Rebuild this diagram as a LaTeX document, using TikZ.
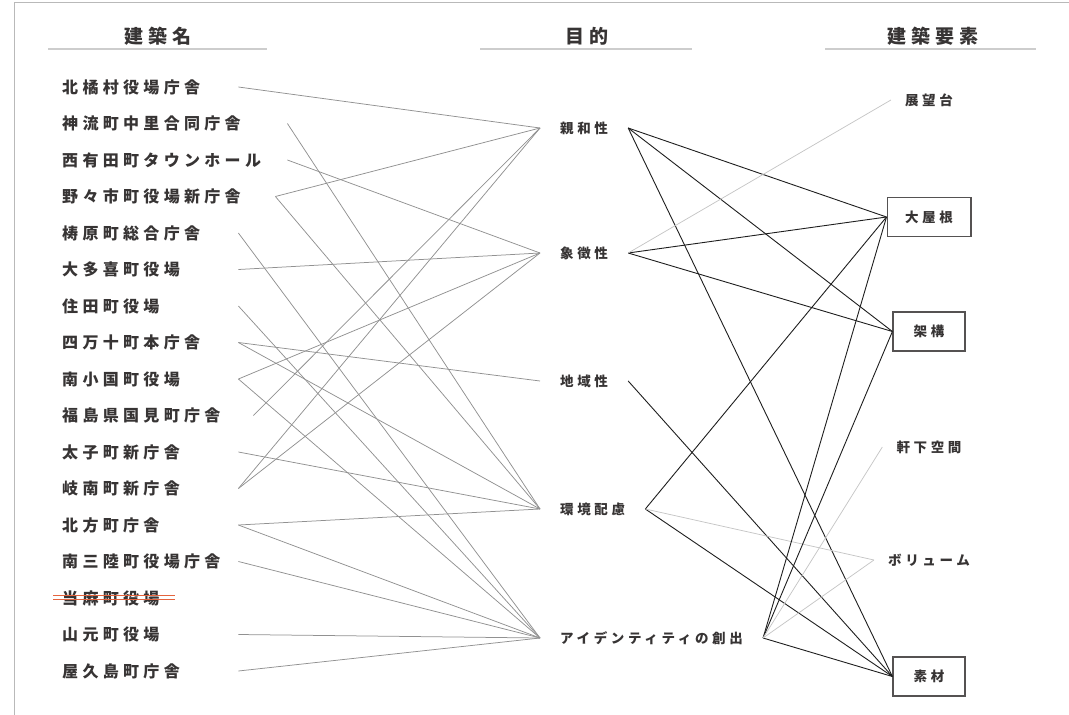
\documentclass[tikz,border=0pt]{standalone}
\usepackage{fontspec}
\usepackage{tikz}
\usetikzlibrary{positioning}
\newfontfamily\jp[LetterSpace=27]{Noto Sans CJK JP}
\definecolor{TextInk}{RGB}{55,52,52}
\definecolor{LinkGray}{RGB}{145,145,145}
\definecolor{LinkDark}{RGB}{30,30,30}
\definecolor{LinkLight}{RGB}{198,198,198}
\definecolor{RuleGray}{RGB}{205,205,205}
\definecolor{FrameGray}{RGB}{185,185,185}
\definecolor{StrikeRed}{RGB}{228,100,62}

\begin{document}
\begin{tikzpicture}[x=1pt, y=-1pt,
          head/.style={font=\jp\bfseries\fontsize{19}{22}\selectfont, text=TextInk},
          bldg/.style={anchor=west, inner xsep=8pt, inner ysep=1pt, text width=168pt,
                       align=left, font=\jp\bfseries\fontsize{16}{19}\selectfont, text=TextInk},
          goal/.style={anchor=west, inner xsep=20pt, inner ysep=2pt,
                       font=\jp\bfseries\fontsize{13.5}{16}\selectfont, text=TextInk},
          elem/.style={inner xsep=14pt, inner ysep=2pt,
                       font=\jp\bfseries\fontsize{13.5}{16}\selectfont, text=TextInk},
          elembox/.style={elem, draw=TextInk!85, line width=1.2pt, inner xsep=18pt,
                          minimum width=72pt, minimum height=39pt},
          rule/.style={draw=RuleGray, line width=1.6pt},
          lk/.style={draw=LinkGray, line width=0.75pt},
          rk/.style={draw=LinkDark, line width=0.9pt},
          rl/.style={draw=LinkLight, line width=0.75pt}
        ]
        \useasboundingbox (0,0) rectangle (1069,715);
        \draw[FrameGray, line width=1pt] (14,715) -- (14,2) -- (1069,2);

        % column heads
        \node[head] (hname) at (158,36) {建築名};
        \node[head] (hgoal) at (587,36) {目的};
        \node[head] (helem) at (933,36) {建築要素};
        \draw[rule] (48,49) -- (267,49);
        \draw[rule] (480,49) -- (692,49);
        \draw[rule] (825,49) -- (1036,49);

        % buildings
        \node[bldg] (b1)  at (54,87)    {北橘村役場庁舎};
        \node[bldg, text width=217pt] (b2) at (54,123.5) {神流町中里合同庁舎};
        \node[bldg, text width=217pt] (b3) at (54,160)   {西有田町タウンホール};
        \node[bldg, text width=205pt] (b4) at (54,196.5) {野々市町役場新庁舎};
        \node[bldg] (b5)  at (54,233)   {梼原町総合庁舎};
        \node[bldg] (b6)  at (54,269.5) {大多喜町役場};
        \node[bldg] (b7)  at (54,306)   {住田町役場};
        \node[bldg] (b8)  at (54,342.5) {四万十町本庁舎};
        \node[bldg] (b9)  at (54,379)   {南小国町役場};
        \node[bldg, text width=183pt] (b10) at (54,415.5) {福島県国見町庁舎};
        \node[bldg] (b11) at (54,452)   {太子町新庁舎};
        \node[bldg] (b12) at (54,488.5) {岐南町新庁舎};
        \node[bldg] (b13) at (54,525)   {北方町庁舎};
        \node[bldg] (b14) at (54,561.5) {南三陸町役場庁舎};
        \node[bldg] (b15) at (54,598)   {当麻町役場};
        \node[bldg] (b16) at (54,634.5) {山元町役場};
        \node[bldg] (b17) at (54,671)   {屋久島町庁舎};
        \draw[StrikeRed, line width=1pt] (53,595) -- (175,595);
        \draw[StrikeRed, line width=1pt] (53,599.5) -- (175,599.5);

        % purposes
        \node[goal] (g1) at (540,128) {親和性};
        \node[goal] (g2) at (540,253) {象徴性};
        \node[goal] (g3) at (540,381) {地域性};
        \node[goal] (g4) at (540,509) {環境配慮};
        \node[goal] (g5) at (540,638) {アイデンティティの創出};

        % elements
        \node[elem]    (e1) at (929,100)   {展望台};
        \node[elembox] (e2) at (929,217)   {大屋根};
        \node[elembox] (e3) at (929,331.5) {架構};
        \node[elem]    (e4) at (929,447)   {軒下空間};
        \node[elem]    (e5) at (929,560)   {ボリューム};
        \node[elembox] (e6) at (929,676.5) {素材};

        % building -> purpose
        \draw[lk] (b1.east)  -- (g1.west);
        \draw[lk] (b2.east)  -- (g4.west);
        \draw[lk] (b3.east)  -- (g2.west);
        \draw[lk] (b4.east)  -- (g1.west);
        \draw[lk] (b4.east)  -- (g4.west);
        \draw[lk] (b5.east)  -- (g5.west);
        \draw[lk] (b6.east)  -- (g2.west);
        \draw[lk] (b7.east)  -- (g5.west);
        \draw[lk] (b8.east)  -- (g3.west);
        \draw[lk] (b8.east)  -- (g4.west);
        \draw[lk] (b9.east)  -- (g2.west);
        \draw[lk] (b9.east)  -- (g5.west);
        \draw[lk] (b10.east) -- (g1.west);
        \draw[lk] (b11.east) -- (g4.west);
        \draw[lk] (b12.east) -- (g1.west);
        \draw[lk] (b12.east) -- (g2.west);
        \draw[lk] (b13.east) -- (g4.west);
        \draw[lk] (b13.east) -- (g5.west);
        \draw[lk] (b14.east) -- (g5.west);
        \draw[lk] (b16.east) -- (g5.west);
        \draw[lk] (b17.east) -- (g5.west);

        % purpose -> element
        \draw[rk] (g1.east) -- (e2.west);
        \draw[rk] (g1.east) -- (e3.west);
        \draw[rk] (g1.east) -- (e6.west);
        \draw[rk] (g2.east) -- (e2.west);
        \draw[rk] (g2.east) -- (e3.west);
        \draw[rl] (g2.east) -- (e1.west);
        \draw[rk] (g3.east) -- (e6.west);
        \draw[rk] (g4.east) -- (e2.west);
        \draw[rk] (g4.east) -- (e6.west);
        \draw[rl] (g4.east) -- (e5.west);
        \draw[rk] (g5.east) -- (e2.west);
        \draw[rk] (g5.east) -- (e3.west);
        \draw[rk] (g5.east) -- (e6.west);
        \draw[rl] (g5.east) -- (e4.west);
        \draw[rl] (g5.east) -- (e5.west);
      \end{tikzpicture}
\end{document}
